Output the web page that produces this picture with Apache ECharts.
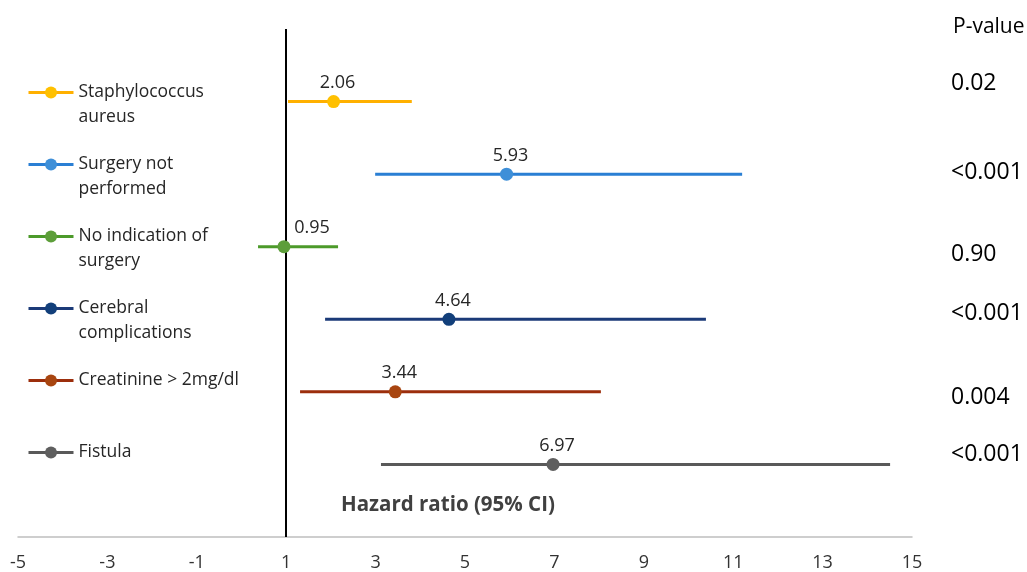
<!DOCTYPE html>
<html><head><meta charset="utf-8">
<script src="https://cdn.jsdelivr.net/npm/echarts@6/dist/echarts.min.js"></script>
<style>html,body{margin:0;padding:0;background:#fff}#c{width:1027px;height:572px}</style>
</head><body><div id="c"></div>
<script>
// ---- data ----
const categories = ['Staphylococcus aureus', 'Surgery not performed', 'No indication of surgery', 'Cerebral complications', 'Creatinine > 2mg/dl', 'Fistula'];
const legendLabels = ['Staphylococcus\naureus', 'Surgery not\nperformed', 'No indication of\nsurgery', 'Cerebral\ncomplications', 'Creatinine > 2mg/dl', 'Fistula'];
const hazardRatio = [2.06, 5.93, 0.95, 4.64, 3.44, 6.97];
const ciLower = [1.04, 2.99, 0.37, 1.87, 1.31, 3.12];
const ciUpper = [3.81, 11.2, 2.16, 10.39, 8.04, 14.51];
const pValues = ['0.02', '<0.001', '0.90', '<0.001', '0.004', '<0.001'];
const pValueHeader = 'P-value';
const axisTitle = 'Hazard ratio (95% CI)';
const xMin = -5, xMax = 15, xInterval = 2;
const referenceLine = 1;

// ---- styles ----
const lineColors = ['#FFB000', '#2A7FD4', '#4C9A2A', '#1B3A78', '#9C2E0C', '#595959'];
const pointColors = ['#FFC000', '#3E8FD8', '#5D9E3A', '#123F7A', '#A84510', '#5F5F5F'];
const pValueY = [82, 171, 253, 312, 396, 453];
const FONT = '"Open Sans", sans-serif';

const n = categories.length;
const series = categories.map((name, i) => {
  const row = n - i;
  const s = {
    type: 'line',
    name: name,
    symbol: 'circle',
    symbolSize: 13,
    showSymbol: true,
    lineStyle: { color: lineColors[i], width: 3 },
    itemStyle: { color: pointColors[i] },
    label: {
      show: false,
      position: 'top',
      distance: 3,
      fontSize: 18,
      fontFamily: FONT,
      color: '#262626',
      offset: i === 2 ? [28, 0] : [4, 0],
      formatter: () => hazardRatio[i].toFixed(2)
    },
    emphasis: { disabled: true },
    data: [
      { value: [ciLower[i], row], symbol: 'none' },
      { value: [hazardRatio[i], row], label: { show: true } },
      { value: [ciUpper[i], row], symbol: 'none' }
    ],
    z: 3
  };
  if (i === 0) {
    s.markLine = {
      silent: true,
      symbol: 'none',
      label: { show: false },
      lineStyle: { color: '#000', width: 2, type: 'solid' },
      data: [{ xAxis: referenceLine }],
      z: 1
    };
  }
  return s;
});

const graphics = [
  { type: 'text', left: 953, top: 17, style: { text: pValueHeader, fontSize: 21, fontFamily: FONT, fill: '#000' } }
].concat(pValues.map((p, i) => ({
  type: 'text', left: 951, top: pValueY[i] - 10,
  style: { text: p, fontSize: 23, fontFamily: FONT, fill: '#000' }
}))).concat([
  { type: 'text', left: 341, top: 495, style: { text: axisTitle, fontSize: 20.5, fontWeight: 'bold', fontFamily: FONT, fill: '#404040' } }
]);

const chart = echarts.init(document.getElementById('c'), null, { renderer: 'canvas' });
chart.setOption({
  animation: false,
  backgroundColor: '#fff',
  grid: { left: 18, right: 115, top: 29, bottom: 33, containLabel: false },
  legend: {
    orient: 'vertical',
    left: 27,
    top: 55,
    padding: 0,
    itemWidth: 45,
    itemHeight: 15,
    itemGap: -3,
    selectedMode: false,
    data: categories,
    lineStyle: { width: 3 },
    textStyle: { fontSize: 17.5, lineHeight: 25, fontFamily: FONT, color: '#262626' },
    formatter: name => {
      const t = legendLabels[categories.indexOf(name)];
      return t.indexOf('\n') >= 0 ? '\n' + t : '\n' + t + '\n';
    }
  },
  xAxis: {
    type: 'value',
    min: xMin, max: xMax, interval: xInterval,
    axisLine: { show: true, lineStyle: { color: '#BFBFBF', width: 1.5 } },
    axisTick: { show: false },
    splitLine: { show: false },
    axisLabel: { fontSize: 18, fontFamily: FONT, color: '#333', margin: 17 }
  },
  yAxis: {
    type: 'value', min: 0, max: n + 1,
    show: false,
    splitLine: { show: false }
  },
  graphic: graphics,
  series: series
});
</script></body></html>
